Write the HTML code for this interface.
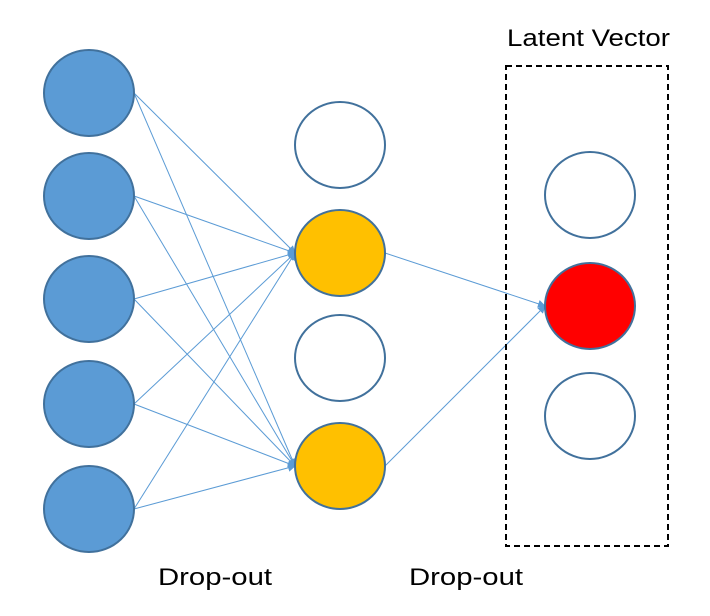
<!DOCTYPE html>
<html><head><style>
body{margin:0;background:#fff;}
svg{display:block;}
text{font-family:"Liberation Sans","Noto Sans CJK KR",sans-serif;font-size:24px;fill:#000;}
</style></head><body>
<svg width="710" height="616" viewBox="0 0 710 616">
<defs>
<marker id="a" markerWidth="8" markerHeight="8" refX="7" refY="4" orient="auto" markerUnits="userSpaceOnUse">
<path d="M0,0 L8,4 L0,8 z" fill="#5B9BD5"/></marker>
</defs>
<g stroke="#5B9BD5" stroke-width="1" marker-end="url(#a)">
<line x1="134" y1="93" x2="295" y2="253"/>
<line x1="134" y1="93" x2="295" y2="466"/>
<line x1="134" y1="196" x2="295" y2="253"/>
<line x1="134" y1="196" x2="295" y2="466"/>
<line x1="134" y1="299" x2="295" y2="253"/>
<line x1="134" y1="299" x2="295" y2="466"/>
<line x1="134" y1="404" x2="295" y2="253"/>
<line x1="134" y1="404" x2="295" y2="466"/>
<line x1="134" y1="509" x2="295" y2="253"/>
<line x1="134" y1="509" x2="295" y2="466"/>
<line x1="385" y1="253" x2="545" y2="306"/>
<line x1="385" y1="466" x2="545" y2="306"/>
</g>
<g stroke="#41719C" stroke-width="2">
<ellipse cx="89" cy="93" rx="45" ry="43" fill="#5B9BD5"/>
<ellipse cx="89" cy="196" rx="45" ry="43" fill="#5B9BD5"/>
<ellipse cx="89" cy="299" rx="45" ry="43" fill="#5B9BD5"/>
<ellipse cx="89" cy="404" rx="45" ry="43" fill="#5B9BD5"/>
<ellipse cx="89" cy="509" rx="45" ry="43" fill="#5B9BD5"/>
<ellipse cx="340" cy="145" rx="45" ry="43" fill="#fff"/>
<ellipse cx="340" cy="253" rx="45" ry="43" fill="#FFC000"/>
<ellipse cx="340" cy="358" rx="45" ry="43" fill="#fff"/>
<ellipse cx="340" cy="466" rx="45" ry="43" fill="#FFC000"/>
<ellipse cx="590" cy="195" rx="45" ry="43" fill="#fff"/>
<ellipse cx="590" cy="306" rx="45" ry="43" fill="#FF0000"/>
<ellipse cx="590" cy="416" rx="45" ry="43" fill="#fff"/>
</g>
<rect x="506" y="66" width="162" height="480" fill="none" stroke="#000" stroke-width="2" stroke-dasharray="6,4"/>
<text x="507" y="46" textLength="163" lengthAdjust="spacingAndGlyphs">Latent Vector</text>
<text x="158" y="585" textLength="114" lengthAdjust="spacingAndGlyphs">Drop-out</text>
<text x="409" y="585" textLength="114" lengthAdjust="spacingAndGlyphs">Drop-out</text>
</svg>
</body></html>
